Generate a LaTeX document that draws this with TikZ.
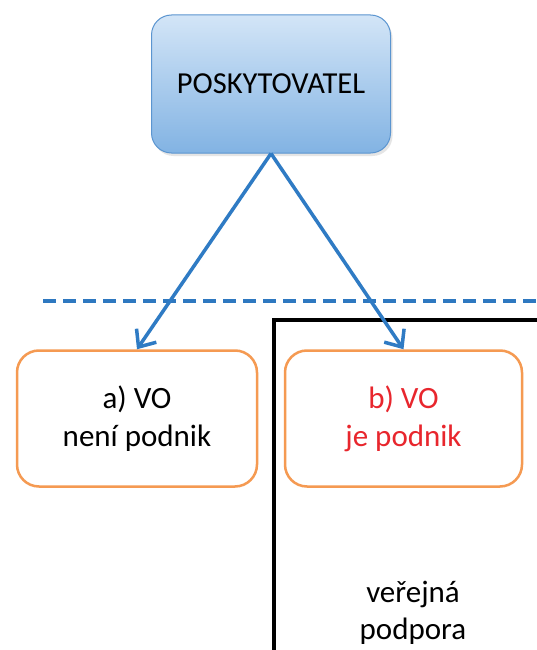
\documentclass[tikz,border=0pt]{standalone}
\usepackage{fontspec}
\setmainfont{Carlito}
\usetikzlibrary{arrows.meta,shadows}
\definecolor{boxtop}{HTML}{D3E5F7}
\definecolor{boxbot}{HTML}{82B3E3}
\definecolor{boxline}{HTML}{5B95D0}
\definecolor{arrowblue}{HTML}{2F7BC4}
\definecolor{dashblue}{HTML}{2E78C0}
\definecolor{orangeline}{HTML}{F59A52}
\definecolor{redtext}{HTML}{E8262D}
\tikzset{
  topbox/.style={draw=boxline, line width=1pt, rounded corners=20pt,
    top color=boxtop, bottom color=boxbot,
    drop shadow={shadow xshift=2pt, shadow yshift=-3pt, opacity=0.25, fill=black!40},
    minimum width=239pt, minimum height=138pt, align=center,
    font=\fontsize{30.5}{36}\selectfont},
  optbox/.style={draw=orangeline, line width=2.5pt, rounded corners=22pt,
    fill=white, minimum height=136pt, align=center,
    font=\fontsize{31}{38}\selectfont},
  conn/.style={draw=arrowblue, line width=3.5pt,
    -{Straight Barb[length=14pt,width=24pt,line width=3.5pt]}},
  divider/.style={draw=dashblue, line width=4pt, dash pattern=on 13pt off 7pt},
  frame/.style={draw=black, line width=3.5pt},
  plain/.style={align=center, font=\fontsize{31}{37}\selectfont}
}
\begin{document}
\begin{tikzpicture}[x=1pt,y=-1pt]
\useasboundingbox[fill=white] (0,0) rectangle (537,650);
\node[topbox] (pos) at (271,84) {POSKYTOVATEL};
\draw[divider] (43,301) -- (545,301);
\draw[frame] (274,660) -- (274,320) -- (545,320);
\node[optbox, minimum width=240pt] (a) at (137,418.5) {a) VO\\není podnik};
\node[optbox, minimum width=237pt, text=redtext] (b) at (403.5,418.5) {b) VO\\je podnik};
\node[plain] (vp) at (413,613) {veřejná\\podpora};
\draw[conn] (pos.south) -- (a.north);
\draw[conn] (pos.south) -- (b.north);
\end{tikzpicture}
\end{document}
